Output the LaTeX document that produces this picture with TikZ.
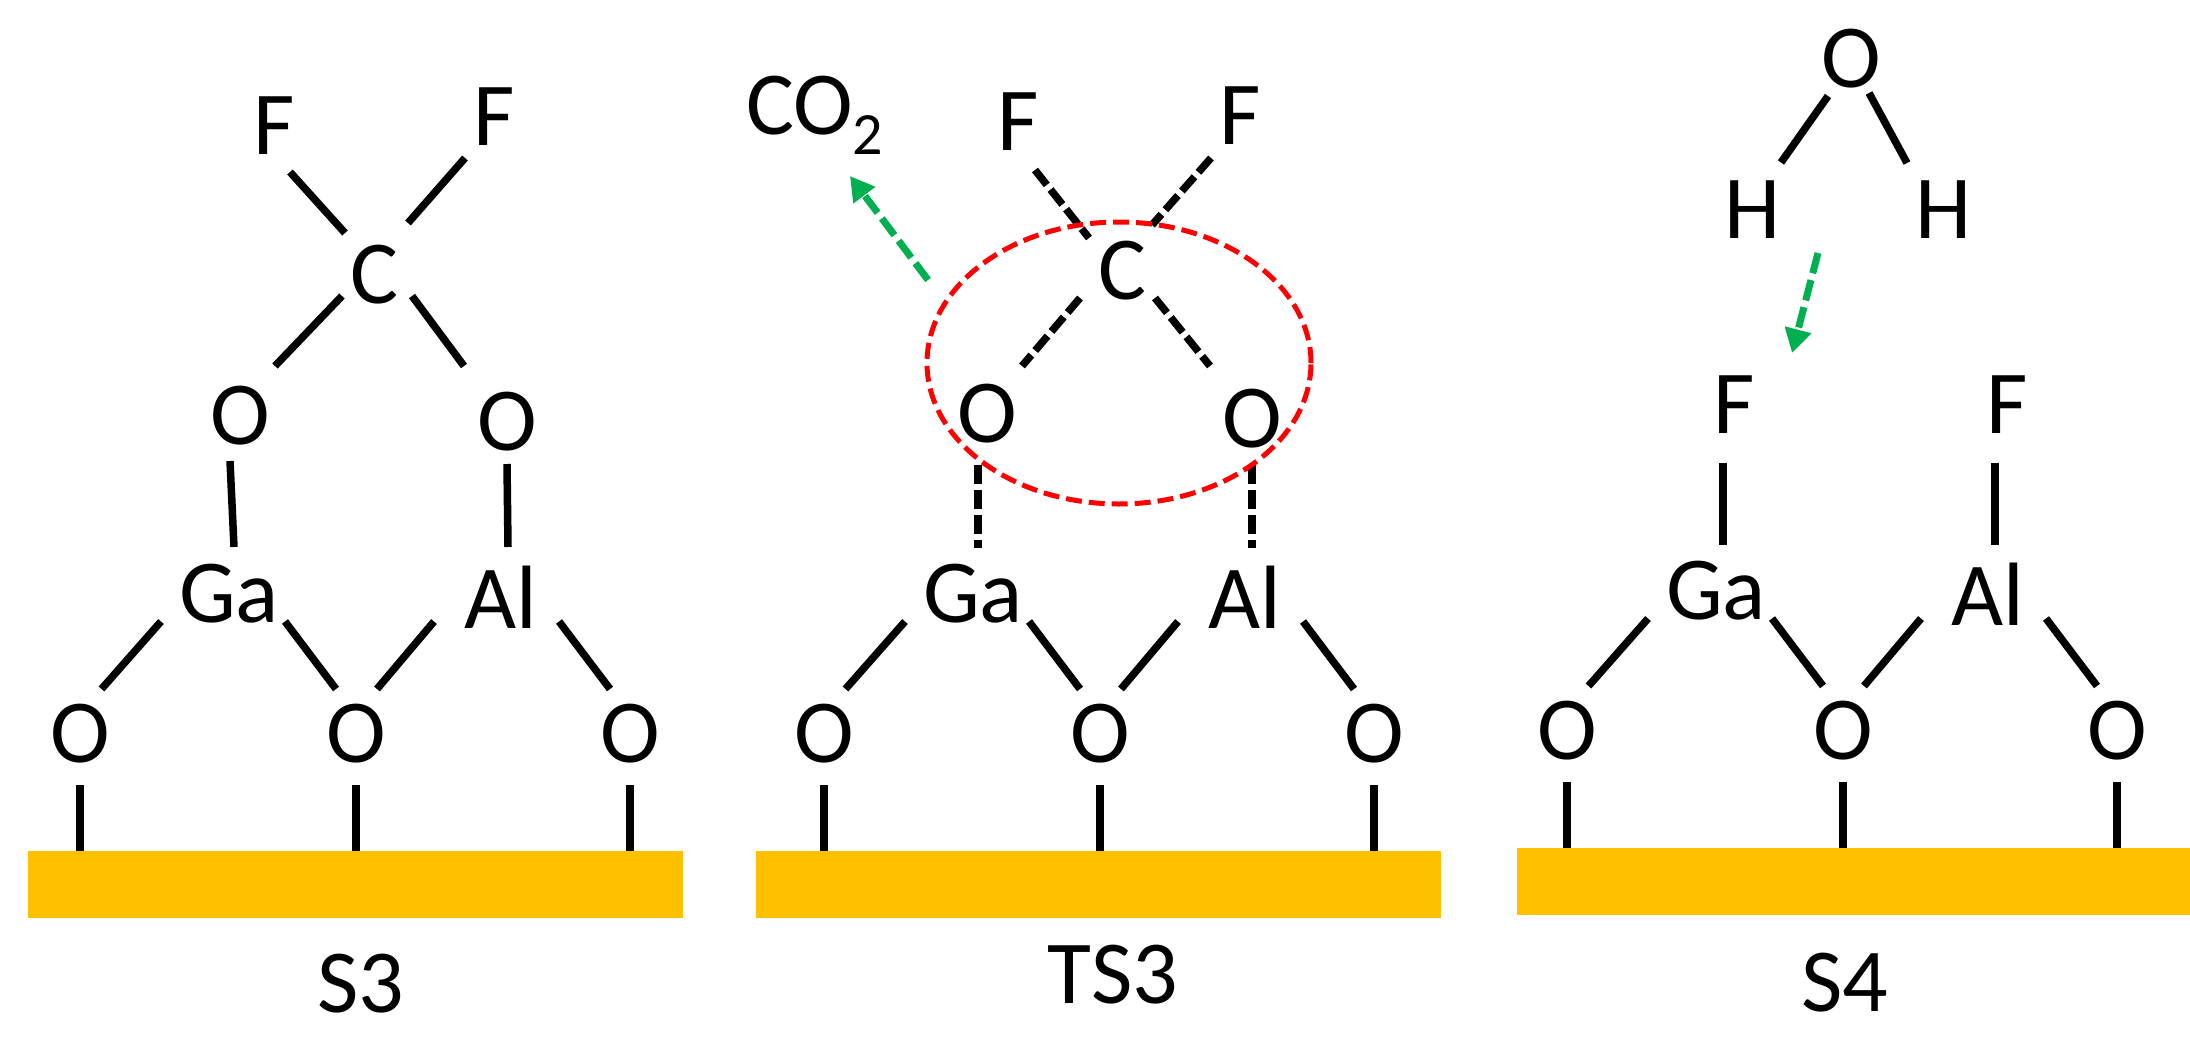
\documentclass[tikz,border=0pt]{standalone}
\usepackage{fontspec}
\setmainfont{Carlito}
\usetikzlibrary{arrows.meta,shapes.geometric}
\definecolor{barc}{HTML}{FFC000}
\definecolor{arrowc}{HTML}{00B050}
\definecolor{ringc}{HTML}{FF0000}
\tikzset{
  atom/.style={inner sep=0pt,font=\fontsize{90}{100}\selectfont,text=black},
  surfacebar/.style={fill=barc,draw=none,inner sep=0pt,minimum height=67pt},
  bond/.style={draw=black,line width=7.5pt},
  dbond/.style={bond,dash pattern=on 19pt off 6pt},
  greenarrow/.style={draw=arrowc,line width=7pt,dash pattern=on 21pt off 7pt,-{Triangle[length=24pt,width=26pt,fill=arrowc]}},
  ring/.style={draw=ringc,line width=5pt,dash pattern=on 16pt off 7pt}
}
% #1 prefix, #2 dx, #3 dy
\newcommand{\surfpart}[3]{%
  \begin{scope}[shift={(#2,#3)}]
    \node[atom] (#1Ga) at (229,594) {Ga};
    \node[atom] (#1Al) at (501,597.5) {Al};
    \node[atom] (#1Oa) at (80,734) {O};
    \node[atom] (#1Ob) at (356,734) {O};
    \node[atom] (#1Oc) at (630,734) {O};
  \end{scope}
  \draw[bond] ([shift={(-68,27.5)}]#1Ga.center) -- ([shift={(21.5,-45)}]#1Oa.center);
  \draw[bond] ([shift={(56,27.5)}]#1Ga.center) -- ([shift={(-20,-45)}]#1Ob.center);
  \draw[bond] ([shift={(-67,24)}]#1Al.center) -- ([shift={(21,-45)}]#1Ob.center);
  \draw[bond] ([shift={(58,24)}]#1Al.center) -- ([shift={(-20,-45)}]#1Oc.center);
  \draw[bond] ([shift={(0,51)}]#1Oa.center) -- (#1Oa.center |- #1bar.north);
  \draw[bond] ([shift={(0,51)}]#1Ob.center) -- (#1Ob.center |- #1bar.north);
  \draw[bond] ([shift={(0,51)}]#1Oc.center) -- (#1Oc.center |- #1bar.north);
}
\begin{document}
\begin{tikzpicture}[x=1pt,y=-1pt]
\useasboundingbox (0,0) rectangle (2190,1044);
% surfaces
\node[surfacebar,minimum width=655pt] (Abar) at (355.5,884.5) {};
\node[surfacebar,minimum width=685pt] (Bbar) at (1098.5,884.5) {};
\node[surfacebar,minimum width=673pt] (Cbar) at (1853.5,881.5) {};
\surfpart{A}{0}{0}
\surfpart{B}{744}{0}
\surfpart{C}{1487}{-3}
% S3
\node[atom] (AOl) at (240,416) {O};
\node[atom] (AOr) at (507,422) {O};
\node[atom] (AC) at (374,275) {C};
\node[atom] (AFl) at (274,126) {F};
\node[atom] (AFr) at (494,117) {F};
\draw[bond] ([shift={(16,46)}]AFl.center) -- ([shift={(-29,-42)}]AC.center);
\draw[bond] ([shift={(-29,41)}]AFr.center) -- ([shift={(34,-52)}]AC.center);
\draw[bond] ([shift={(-32,21)}]AC.center) -- ([shift={(35,-50)}]AOl.center);
\draw[bond] ([shift={(38,21)}]AC.center) -- ([shift={(-43,-56)}]AOr.center);
\draw[bond] ([shift={(-10,45)}]AOl.center) -- ([shift={(5,-47)}]AGa.center);
\draw[bond] ([shift={(0,42)}]AOr.center) -- ([shift={(7,-50.5)}]AAl.center);
\node[atom] (Alabel) at (360.5,984) {S3};
% TS3
\node[atom] (BOl) at (987,414) {O};
\node[atom] (BOr) at (1252,419) {O};
\node[atom] (BC) at (1122,271) {C};
\node[atom] (BFl) at (1018,122) {F};
\node[atom] (BFr) at (1240,116) {F};
\node[atom,anchor=base west] (co2) at (746,134) {CO\raisebox{-20pt}{\fontsize{60}{62}\selectfont 2}};
\draw[dbond] ([shift={(17,48)}]BFl.center) -- ([shift={(-33,-33)}]BC.center);
\draw[dbond] ([shift={(-29,42)}]BFr.center) -- ([shift={(30,-46)}]BC.center);
\draw[dbond] ([shift={(-42,27)}]BC.center) -- ([shift={(35,-48)}]BOl.center);
\draw[dbond] ([shift={(33,27)}]BC.center) -- ([shift={(-42,-53)}]BOr.center);
\draw[dbond] ([shift={(-9,51)}]BOl.center) -- ([shift={(5,-46.5)}]BGa.center);
\draw[dbond] ([shift={(0,46)}]BOr.center) -- ([shift={(7,-50)}]BAl.center);
\node[ring,ellipse,minimum width=384pt,minimum height=282pt,inner sep=0pt] (ringnode) at (1119,363) {};
\coordinate (co2tail) at (928,280);
\coordinate (co2tip) at (850,176);
\draw[greenarrow] (co2tail) -- (co2tip);
\node[atom] (Blabel) at (1113,975) {TS3};
% S4
\node[atom] (CO) at (1851,59) {O};
\node[atom] (CHl) at (1753,210) {H};
\node[atom] (CHr) at (1944,210) {H};
\node[atom] (CFl) at (1734,405) {F};
\node[atom] (CFr) at (2007,405) {F};
\draw[bond] ([shift={(-23,37)}]CO.center) -- ([shift={(28,-47.5)}]CHl.center);
\draw[bond] ([shift={(18,34)}]CO.center) -- ([shift={(-37,-47)}]CHr.center);
\draw[bond] ([shift={(-11,57.5)}]CFl.center) -- ([shift={(7,-46)}]CGa.center);
\draw[bond] ([shift={(-12,57.5)}]CFr.center) -- ([shift={(7,-49.5)}]CAl.center);
\coordinate (h2otail) at (1818,253);
\coordinate (h2otip) at (1792,353);
\draw[greenarrow] (h2otail) -- (h2otip);
\node[atom] (Clabel) at (1844.5,983) {S4};
\end{tikzpicture}
\end{document}
